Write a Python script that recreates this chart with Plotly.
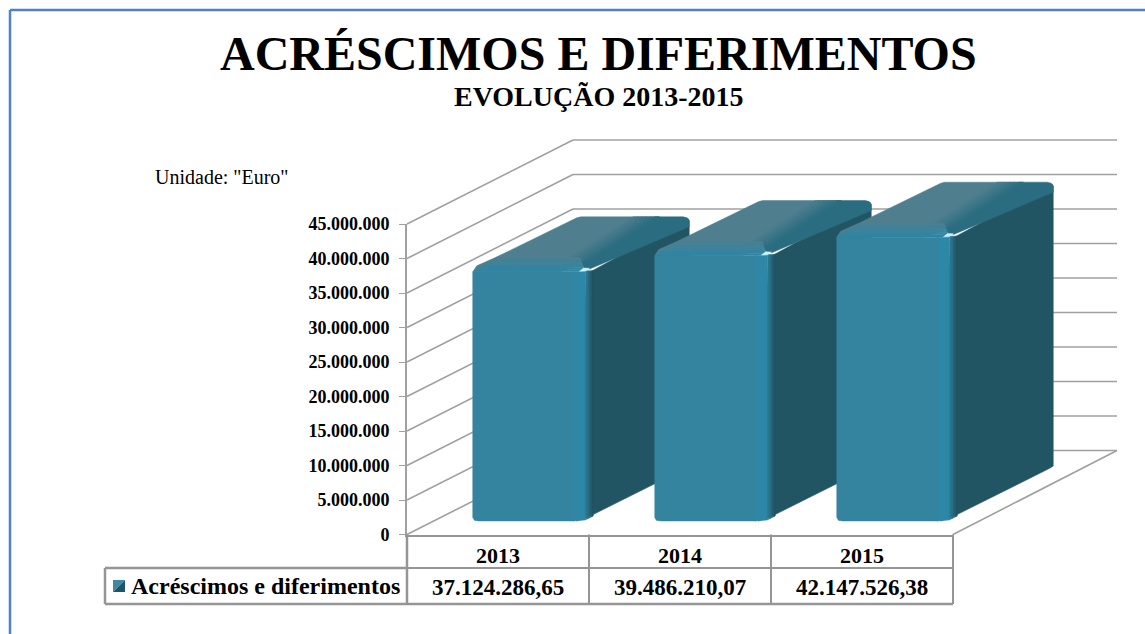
import plotly.graph_objects as go

TITLE = "ACRÉSCIMOS E DIFERIMENTOS"
SUBTITLE = "EVOLUÇÃO 2013-2015"
UNIT = 'Unidade: "Euro"'
SERIES = "Acréscimos e diferimentos"
YEARS = ["2013", "2014", "2015"]
VALUES = [37124286.65, 39486210.07, 42147526.38]
VALUE_LABELS = ["37.124.286,65", "39.486.210,07", "42.147.526,38"]
TICKS = [0, 5e6, 10e6, 15e6, 20e6, 25e6, 30e6, 35e6, 40e6, 45e6]

W, H = 1145, 634
AX_L, AX_R, AX_B, AX_T = 407, 953, 534.5, 224
CAT_PX = (AX_R - AX_L) / 3
PX_PER_VAL = (AX_B - AX_T) / 45e6
GREY = "#A0A0A0"
FONT = "Liberation Serif"


def dx(px):
    return px / CAT_PX


def dy(px):
    return px / PX_PER_VAL


WALL_DX, WALL_DY = dx(166), dy(84)
FRONT_DX, FRONT_DY = dx(33.5), dy(13.5)
BAR_W = dx(117.5)
DEPTH_DX, DEPTH_DY = dx(99), dy(53)
CAP = dy(7)

fig = go.Figure()


def poly(xs, ys, color):
    fig.add_trace(go.Scatter(x=xs, y=ys, mode="lines", fill="toself", fillcolor=color,
                             line=dict(width=0.5, color=color), hoverinfo="skip",
                             showlegend=False, xaxis="x2", yaxis="y2"))


def line(xs, ys, width=1.6):
    fig.add_trace(go.Scatter(x=xs, y=ys, mode="lines", line=dict(width=width, color=GREY),
                             hoverinfo="skip", showlegend=False, xaxis="x2", yaxis="y2"))


def mix(a, b, t):
    ca = [int(a[i:i + 2], 16) for i in (1, 3, 5)]
    cb = [int(b[i:i + 2], 16) for i in (1, 3, 5)]
    return "#%02x%02x%02x" % tuple(round(p + (q - p) * t) for p, q in zip(ca, cb))


x_left, x_right = -0.5, 2.5
# back wall, oblique lines and floor, driven by the value axis ticks
for t in TICKS:
    line([x_left, x_left + WALL_DX], [t, t + WALL_DY])
    line([x_left + WALL_DX, x_right + WALL_DX - dx(2)], [t + WALL_DY, t + WALL_DY])
line([x_right, x_right + WALL_DX - dx(2)], [0, WALL_DY])

FRONT = "#35849F"
FRONT_EDGE = "#2E87A6"
SIDE = "#225563"
TOP = "#4F7F8F"
TOP_DARK = "#2A6C80"
STRIP = "#2F86A3"

for i, v in enumerate(VALUES):
    L = i - BAR_W / 2 + FRONT_DX
    R = L + BAR_W
    B = FRONT_DY
    T = v - CAP + FRONT_DY
    r_x, r_y = dx(6), dy(6)
    back = T + DEPTH_DY + dy(2)

    # side face
    poly([R - dx(4), R, R + DEPTH_DX - dx(1), R + DEPTH_DX, R + DEPTH_DX, R + DEPTH_DX - dx(3), R - dx(4), R - dx(14)],
         [T, T, T + DEPTH_DY, back - dy(4), B + DEPTH_DY + dy(2),
          B + DEPTH_DY, B + dy(3), B],
         SIDE)

    # top face, light part then dark part, blended along their shared edge
    poly([L, L + dx(4), L + dx(22), L + DEPTH_DX + dx(5), L + DEPTH_DX + dx(9), R + DEPTH_DX - dx(30), R - dx(2), R - dx(30), L + dx(4)],
         [T, T + dy(6), T + dy(14), back - dy(1), back, back, T + dy(10), T, T],
         TOP)
    poly([R - dx(10), R + DEPTH_DX - dx(34), R + DEPTH_DX - dx(6), R + DEPTH_DX - dx(2), R + DEPTH_DX,
          R + DEPTH_DX, R, R - dx(6)],
         [T + dy(10), back, back, back - dy(1), back - dy(4), back - dy(10), T + dy(3), T + dy(3)],
         TOP_DARK)
    q = 6
    for k in range(q):
        s0 = dx(-20) + dx(26) * k / q
        s1 = dx(-20) + dx(26) * (k + 1) / q
        poly([R - dx(8) + s0, R + DEPTH_DX - dx(36) + s0, R + DEPTH_DX - dx(36) + s1, R - dx(8) + s1],
             [T + dy(10), back, back, T + dy(10)], mix(TOP, TOP_DARK, (k + 1) / (q + 1)))
    # lit band along the front top edge, fading up into the top face
    n = 6
    for k in range(n):
        y0 = T + dy(14) * (n - k) / n
        y1 = T + dy(14) * (n - k - 1) / n
        inset0 = dx(24) * (n - k) / n
        inset1 = dx(24) * (n - k - 1) / n
        poly([L + inset0, R - dx(5) - dx(5) * (n - k) / n, R - dx(5) - dx(5) * (n - k - 1) / n, L + inset1],
             [y0, y0, y1, y1], mix(TOP, STRIP, (k + 1) / n))

    # front face with rounded corners
    poly([L, L, L + r_x * 0.3, L + r_x, R - dx(16), R - dx(16)],
         [T, B + r_y * 0.6, B + r_y * 0.1, B, B, T],
         FRONT)
    poly([R - dx(17), R - dx(17), R - dx(5), R - dx(5)],
         [T, B, B + dy(1), T],
         FRONT_EDGE)
    # soft transition from the front face into the side face
    m = 6
    for k in range(m):
        a = R - dx(5) + dx(8) * k / m
        b = R - dx(5) + dx(8) * (k + 1) / m
        fade = (k + 1) / m
        poly([a, b, b, a],
             [T + dy(1), T + dy(1), B + dy(1) + dy(4) * (k + 1) / m, B + dy(1) + dy(4) * k / m],
             mix(FRONT_EDGE, SIDE, fade))
    # highlight
    poly([R - dx(11), R - dx(5), R - dx(1), R - dx(7)],
         [T + dy(0.5), T + dy(0.8), T + dy(3.5), T + dy(3.8)], "#C8F2FA")

# main axes: the real value axis and the real category axis
fig.add_trace(go.Scatter(x=YEARS, y=VALUES, mode="markers", marker=dict(opacity=0),
                         name=SERIES, hoverinfo="skip", showlegend=False))

shapes = []


def seg(x0, y0, x1, y1, w=2):
    shapes.append(dict(type="line", xref="paper", yref="paper", x0=x0 / W, x1=x1 / W,
                       y0=1 - y0 / H, y1=1 - y1 / H, line=dict(color="#959595", width=w)))


# data table grid
seg(AX_L, 568, AX_R, 568)
seg(105, 568, AX_L, 568, 2.5)
seg(105, 604, AX_R, 604, 2.5)
seg(105, 568, 105, 604, 2.5)
for k in range(4):
    px = AX_L + CAT_PX * k
    seg(px, AX_B, px, 604, 2 if k else 2.5)
# outer frame of the picture
seg(10, 10, W, 10, 2.5)
seg(10, 10, 10, H, 2.5)
for s in shapes[-2:]:
    s["line"]["color"] = "#4F81C6"


# legend key: a square split along its diagonal
def key(color, a, b, c):
    p = " L ".join(f"{x / W:.5f},{1 - y / H:.5f}" for x, y in (a, b, c))
    shapes.append(dict(type="path", xref="paper", yref="paper", path=f"M {p} Z",
                       fillcolor=color, line=dict(width=0)))


key("#3D8AA6", (113, 580), (125, 580), (113, 592))
key("#1F5568", (125, 580), (125, 592), (113, 592))

annotations = []


def text(s, x, y, size, bold=True, anchor="center"):
    annotations.append(dict(text=f"<b>{s}</b>" if bold else s, xref="paper", yref="paper",
                            x=x / W, y=1 - y / H, xanchor=anchor, yanchor="middle", showarrow=False,
                            font=dict(family=FONT, size=size, color="#000000")))


text(TITLE, 598, 53, 48)
text(SUBTITLE, 599, 97, 28)
text(UNIT, 153, 177, 20, bold=False, anchor="left")
text(SERIES, 129, 586, 24, anchor="left")
for i, lab in enumerate(VALUE_LABELS):
    text(lab, AX_L + CAT_PX * (i + 0.5), 587, 23)

fig.update_layout(
    template="none",
    width=W, height=H, margin=dict(l=0, r=0, t=0, b=0, pad=0), autosize=False,
    paper_bgcolor="#FFFFFF", plot_bgcolor="rgba(0,0,0,0)", showlegend=False,
    shapes=shapes, annotations=annotations,
    font=dict(family=FONT, color="#000000"),
    xaxis=dict(domain=[AX_L / W, AX_R / W], type="category", categoryorder="array", categoryarray=YEARS,
               range=[-0.5, 2.5], automargin=False, showgrid=False, zeroline=False, showline=True,
               linecolor="#959595", linewidth=2, ticks="", ticklen=0,
               tickfont=dict(family=FONT, size=22, color="#000000", weight="bold"), anchor="y"),
    yaxis=dict(domain=[1 - AX_B / H, 1 - AX_T / H], range=[0, 45e6], tickvals=TICKS,
               ticktext=[f"{int(t):,}".replace(",", ".") for t in TICKS], automargin=False,
               showgrid=False, zeroline=False, showline=True, linecolor=GREY, linewidth=2,
               ticks="outside", ticklen=6, tickcolor=GREY, ticklabelstandoff=6,
               tickfont=dict(family=FONT, size=18, color="#000000", weight="bold"), anchor="x"),
    xaxis2=dict(domain=[0, 1], range=[(0 - AX_L) / CAT_PX - 0.5, (W - AX_L) / CAT_PX - 0.5],
                visible=False, anchor="y2", automargin=False),
    yaxis2=dict(domain=[0, 1], range=[-(H - AX_B) / PX_PER_VAL, AX_B / PX_PER_VAL],
                visible=False, anchor="x2", automargin=False),
)

fig.write_html("out.html", config=dict(displayModeBar=False),
               post_script="document.body.style.margin='0';document.documentElement.style.overflow='hidden';")
